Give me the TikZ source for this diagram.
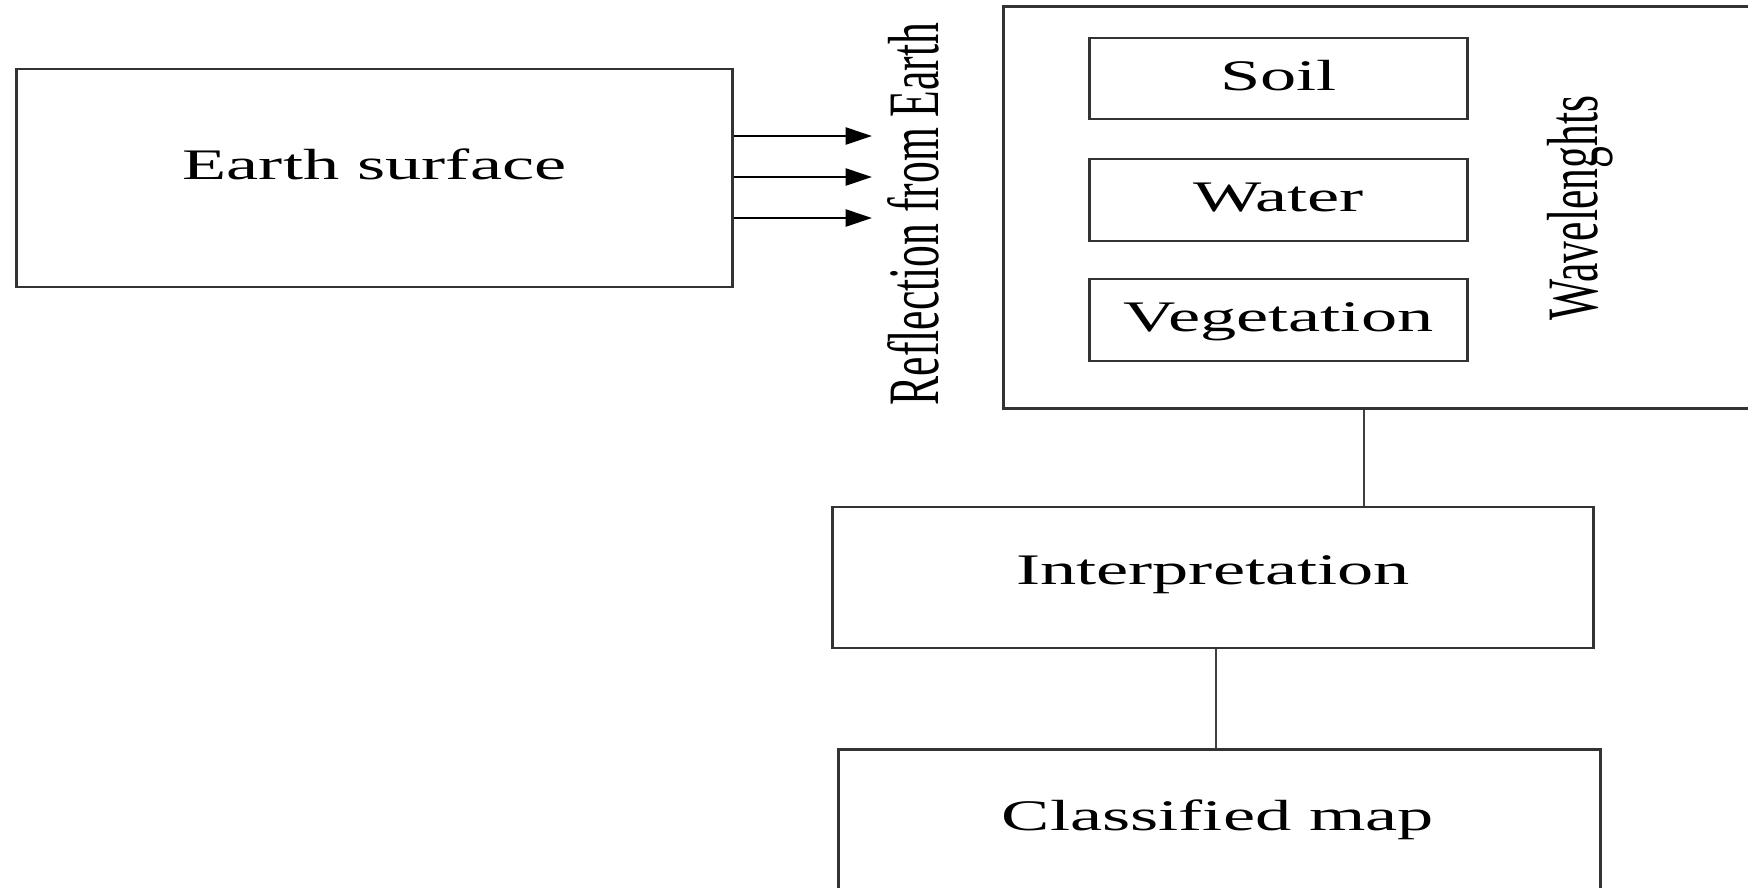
\documentclass[tikz,border=0pt]{standalone}
\usepackage{fontspec}
\setmainfont{Liberation Serif}
\usepackage{graphicx}
\usetikzlibrary{arrows.meta,positioning}

% the figure is drawn wide: letters are stretched sideways
\newcommand{\wide}[1]{\scalebox{1.66}[1]{#1}}
\newcommand{\tall}[1]{\scalebox{1}[1.66]{#1}}

\tikzset{
  box/.style={draw=black!80,line width=0.8pt,inner sep=0pt,
    text height=0.68em,text depth=0pt,font=\fontsize{12.4}{14}\selectfont},
  side/.style={inner sep=0pt,rotate=90,font=\fontsize{12.4}{14}\selectfont},
  link/.style={draw=black!75,line width=0.7pt},
  ray/.style={draw=black,line width=0.8pt,-{Triangle[length=7.5pt,width=4.8pt]}}
}

\begin{document}
\begin{tikzpicture}[x=0.01cm,y=-0.01cm]
\clip (0,0) rectangle (1748,887);
\fill[white] (0,0) rectangle (1748,887);

% earth and reflected rays
\node[box,minimum width=7.15cm,minimum height=2.18cm] (earth) at (374.5,178) {\raisebox{0.1cm}{\wide{Earth surface}}};
\coordinate (r1) at (872,136);
\coordinate (r2) at (872,177);
\coordinate (r3) at (872,218);
\draw[ray] (earth.east |- r1) -- (r1);
\draw[ray] (earth.east |- r2) -- (r2);
\draw[ray] (earth.east |- r3) -- (r3);
\node[side] (refl) at (913,214) {\tall{Reflection from Earth}};

% sensor box, open to the right
\node[box,minimum width=8cm,minimum height=4.02cm,anchor=north west] (sensor) at (1002,5) {};
\node[box,minimum width=3.77cm,minimum height=0.81cm] (soil) at (1278.5,78.5) {\wide{Soil}};
\node[box,minimum width=3.77cm,minimum height=0.82cm] (water) at (1278.5,200) {\wide{Water}};
\node[box,minimum width=3.77cm,minimum height=0.82cm] (veg) at (1278.5,320) {\wide{Vegetation}};
\node[side] (wave) at (1580,208) {\tall{Wavelenghts}};

% processing chain
\node[box,minimum width=7.6cm,minimum height=1.41cm] (interp) at (1213,577.5) {\raisebox{0.05cm}{\wide{Interpretation}}};
\node[box,minimum width=7.61cm,minimum height=2.4cm,anchor=north] (map) at (1219.5,748) {};
\node[font=\fontsize{12.4}{14}\selectfont,inner sep=0pt,anchor=base] (maptext) at (1218,830) {\wide{Classified map}};

\coordinate (s1) at (1364,0);
\coordinate (s2) at (1216,0);
\draw[link] (sensor.south -| s1) -- (interp.north -| s1);
\draw[link] (interp.south -| s2) -- (map.north -| s2);
\end{tikzpicture}
\end{document}
